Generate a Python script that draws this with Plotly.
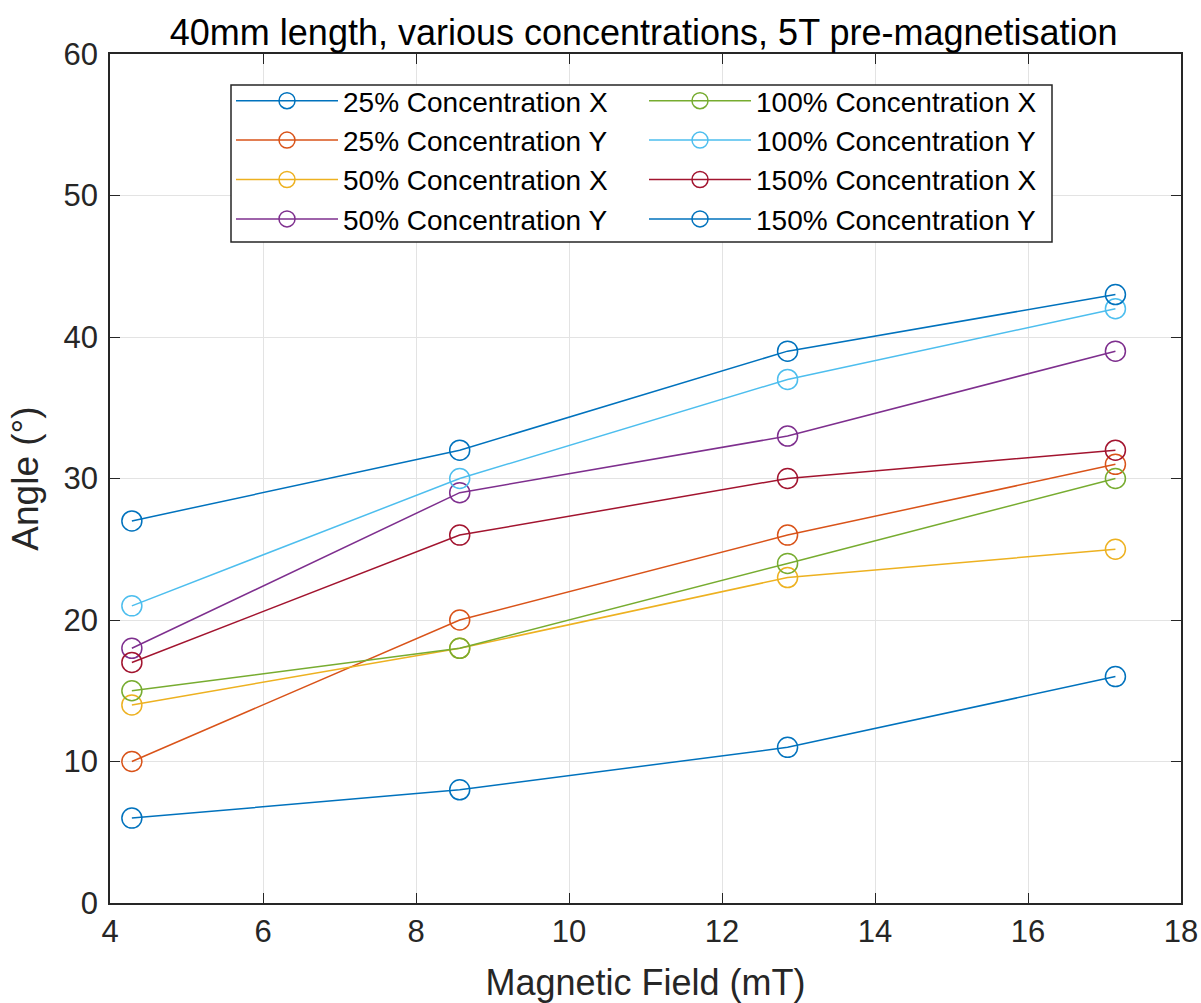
import plotly.graph_objects as go

field = [4.2857, 8.5714, 12.8571, 17.1429]
names = ["25% Concentration X", "25% Concentration Y", "50% Concentration X", "50% Concentration Y",
         "100% Concentration X", "100% Concentration Y", "150% Concentration X", "150% Concentration Y"]
c25x = [6, 8, 11, 16]
c25y = [10, 20, 26, 31]
c50x = [14, 18, 23, 25]
c50y = [18, 29, 33, 39]
c100x = [15, 18, 24, 30]
c100y = [21, 30, 37, 42]
c150x = [17, 26, 30, 32]
c150y = [27, 32, 39, 43]
series = [c25x, c25y, c50x, c50y, c100x, c100y, c150x, c150y]
colors = ["#0072BD", "#D95319", "#EDB120", "#7E2F8E", "#77AC30", "#4DBEEE", "#A2142F", "#0072BD"]
ranks = [1, 3, 5, 7, 2, 4, 6, 8]

fig = go.Figure()
for n, s, c, r in zip(names, series, colors, ranks):
    fig.add_trace(go.Scatter(x=field, y=s, name=n, mode="lines+markers",
                             line=dict(color=c, width=1.5),
                             marker=dict(symbol="circle-open", size=20, color=c, line=dict(width=1.5)),
                             legendrank=r))

font = "Liberation Sans, Arial, sans-serif"
axcol = "#262626"
L, R, T, B = 110, 20, 54, 100
W, H = 1201, 1003
pw, ph = W - L - R, H - T - B


def px(x):
    return (x - L) / pw


def py(y):
    return (H - B - y) / ph


fig.update_layout(
    width=W, height=H,
    margin=dict(l=L, r=R, t=T, b=B),
    plot_bgcolor="white", paper_bgcolor="white",
    font=dict(family=font, size=31, color=axcol),
    title=dict(text="40mm length, various concentrations, 5T pre-magnetisation",
               x=0.536, xanchor="center", y=0.968, yanchor="middle",
               font=dict(size=36, color="black")),
    legend=dict(orientation="h", x=px(231), y=py(76), xanchor="left", yanchor="top",
                entrywidth=296, entrywidthmode="pixels", itemwidth=102,
                bgcolor="rgba(0,0,0,0)", borderwidth=0,
                font=dict(size=28, color="black"), tracegroupgap=0, traceorder="normal"),
    showlegend=True,
    shapes=[dict(type="rect", xref="paper", yref="paper", x0=px(231), x1=px(1052), y0=py(242), y1=py(85),
                 fillcolor="white", line=dict(color=axcol, width=1.5), layer="above")],
)
fig.update_xaxes(range=[4, 18], dtick=2, tick0=4, showline=True, mirror="ticks", linecolor=axcol, linewidth=1.5,
                 ticks="inside", ticklen=10, tickcolor=axcol, showgrid=True, gridcolor="#E3E3E3", gridwidth=1,
                 zeroline=False, tickfont=dict(size=31), automargin=False,
                 title=dict(text="Magnetic Field (mT)", font=dict(size=36, color=axcol), standoff=22))
fig.update_yaxes(range=[0, 60], dtick=10, showline=True, mirror="ticks", linecolor=axcol, linewidth=1.5,
                 ticks="inside", ticklen=10, tickcolor=axcol, showgrid=True, gridcolor="#E3E3E3", gridwidth=1,
                 zeroline=False, tickfont=dict(size=31), ticklabelstandoff=4, automargin=False,
                 title=dict(text="Angle (°)", font=dict(size=37, color=axcol), standoff=14))

fig.write_html("out.html")
